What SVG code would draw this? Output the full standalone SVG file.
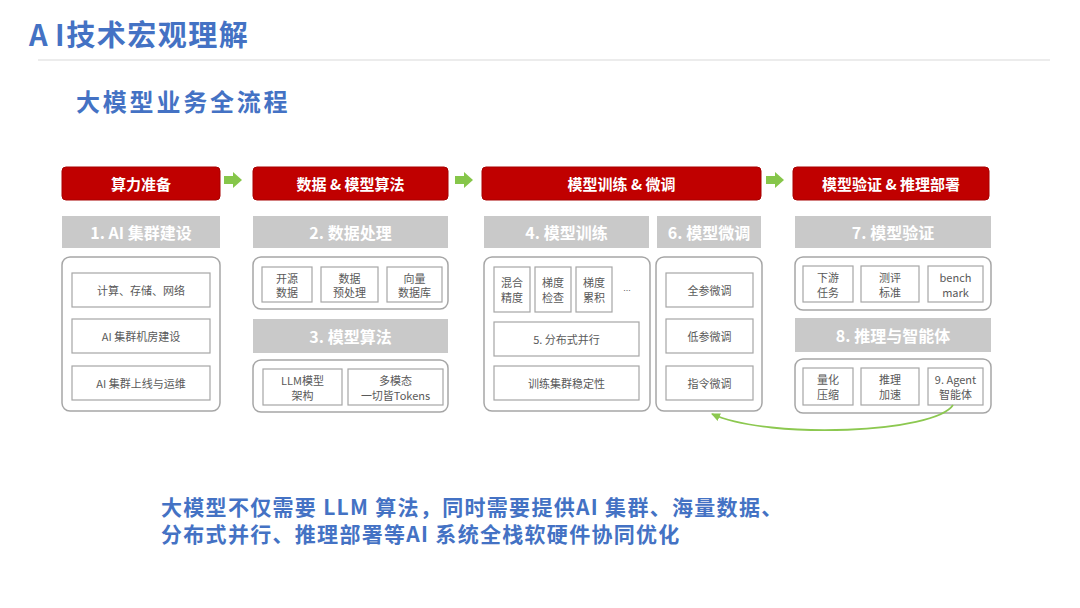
<svg xmlns="http://www.w3.org/2000/svg" width="1080" height="608" viewBox="0 0 1080 608">
<defs>
<style>
.cjk{font-family:"Noto Sans CJK SC","Liberation Sans",sans-serif}
.title{font-size:29px;font-weight:700;fill:#4472C4;letter-spacing:1.5px}
.sub{font-size:24px;font-weight:700;fill:#4472C4;letter-spacing:2.8px}
.foot{font-size:21px;font-weight:700;fill:#4472C4;letter-spacing:1.3px}
.hdr{fill:#C00000;stroke:#A80000;stroke-width:1}
.hdrt{font-size:15px;font-weight:700;fill:#fff}
.bar{fill:#C9C9C9}
.bart{font-size:16px;font-weight:700;fill:#fff}
.outer{fill:#fff;stroke:#A6A6A6;stroke-width:1.5}
.inner{fill:#fff;stroke:#A6A6A6;stroke-width:1.2}
.t{font-size:11px;fill:#595959}
.arrowg{fill:#86C64A}
</style>
<marker id="ah" markerWidth="10" markerHeight="10" refX="8" refY="5" orient="auto" markerUnits="userSpaceOnUse">
<path d="M0,1 L9,5 L0,9 Z" fill="#8CC850"/>
</marker>
</defs>
<rect width="1080" height="608" fill="#fff"/>

<g id="title" class="cjk">
<text class="title" x="29" y="33" dominant-baseline="central">A<tspan dx="6">I</tspan>技术宏观理解</text>
<line x1="38" y1="60" x2="1050" y2="60" stroke="#D9D9D9" stroke-width="1.2"/>
<text class="sub" x="76" y="100" dominant-baseline="central">大模型业务全流程</text>
</g>

<!-- Column 1 -->
<g id="col1" class="cjk" text-anchor="middle" dominant-baseline="central">
<rect class="hdr" x="62" y="167" width="158" height="33" rx="4"/>
<text class="hdrt" x="141" y="183.5">算力准备</text>
<rect class="bar" x="62" y="216" width="158" height="32"/>
<text class="bart" x="141" y="232">1. AI 集群建设</text>
<rect class="outer" x="62" y="257" width="158" height="154" rx="8"/>
<rect class="inner" x="72" y="273" width="138" height="34"/>
<text class="t" x="141" y="290">计算、存储、网络</text>
<rect class="inner" x="72" y="319" width="138" height="34"/>
<text class="t" x="141" y="336">AI 集群机房建设</text>
<rect class="inner" x="72" y="366" width="138" height="34"/>
<text class="t" x="141" y="383">AI 集群上线与运维</text>
</g>

<!-- Column 2 -->
<g id="col2" class="cjk" text-anchor="middle" dominant-baseline="central">
<rect class="hdr" x="253" y="167" width="195" height="33" rx="4"/>
<text class="hdrt" x="350.5" y="183.5">数据 &amp; 模型算法</text>
<rect class="bar" x="253" y="216" width="195" height="32"/>
<text class="bart" x="350.5" y="232">2. 数据处理</text>
<rect class="outer" x="253" y="257" width="195" height="52" rx="8"/>
<rect class="inner" x="262" y="267" width="50" height="35"/>
<text class="t" x="287" y="278">开源</text>
<text class="t" x="287" y="292">数据</text>
<rect class="inner" x="321" y="267" width="57" height="35"/>
<text class="t" x="349.5" y="278">数据</text>
<text class="t" x="349.5" y="292">预处理</text>
<rect class="inner" x="387" y="267" width="55" height="35"/>
<text class="t" x="414.5" y="278">向量</text>
<text class="t" x="414.5" y="292">数据库</text>
<rect class="bar" x="253" y="319" width="195" height="34"/>
<text class="bart" x="350.5" y="336">3. 模型算法</text>
<rect class="outer" x="253" y="360" width="195" height="52" rx="8"/>
<rect class="inner" x="263" y="369" width="79" height="36"/>
<text class="t" x="302.5" y="380">LLM模型</text>
<text class="t" x="302.5" y="395">架构</text>
<rect class="inner" x="348" y="369" width="95" height="36"/>
<text class="t" x="395.5" y="380">多模态</text>
<text class="t" x="395.5" y="395">一切皆Tokens</text>
</g>

<!-- Column 3 -->
<g id="col3" class="cjk" text-anchor="middle" dominant-baseline="central">
<rect class="hdr" x="482" y="167" width="279" height="33" rx="4"/>
<text class="hdrt" x="621.5" y="183.5">模型训练 &amp; 微调</text>
<rect class="bar" x="484" y="216" width="165" height="32"/>
<text class="bart" x="566.5" y="232">4. 模型训练</text>
<rect class="outer" x="484" y="257" width="166" height="154" rx="8"/>
<rect class="inner" x="494" y="267" width="36" height="45"/>
<text class="t" x="512" y="282">混合</text>
<text class="t" x="512" y="297">精度</text>
<rect class="inner" x="535" y="267" width="36" height="45"/>
<text class="t" x="553" y="282">梯度</text>
<text class="t" x="553" y="297">检查</text>
<rect class="inner" x="576" y="267" width="36" height="45"/>
<text class="t" x="594" y="282">梯度</text>
<text class="t" x="594" y="297">累积</text>
<text class="t" x="627" y="288" style="font-family:'Liberation Sans',sans-serif;font-size:9px">...</text>
<rect class="inner" x="494" y="322" width="145" height="34"/>
<text class="t" x="566.5" y="339">5. 分布式并行</text>
<rect class="inner" x="494" y="366" width="145" height="34"/>
<text class="t" x="566.5" y="383">训练集群稳定性</text>
</g>

<g id="col3b" class="cjk" text-anchor="middle" dominant-baseline="central">
<rect class="bar" x="657" y="216" width="104" height="32"/>
<text class="bart" x="709" y="232">6. 模型微调</text>
<rect class="outer" x="656" y="257" width="106" height="154" rx="8"/>
<rect class="inner" x="666" y="273" width="87" height="34"/>
<text class="t" x="709.5" y="290">全参微调</text>
<rect class="inner" x="666" y="319" width="87" height="34"/>
<text class="t" x="709.5" y="336">低参微调</text>
<rect class="inner" x="666" y="366" width="87" height="34"/>
<text class="t" x="709.5" y="383">指令微调</text>
</g>

<!-- Column 4 -->
<g id="col4" class="cjk" text-anchor="middle" dominant-baseline="central">
<rect class="hdr" x="793" y="167" width="196" height="33" rx="4"/>
<text class="hdrt" x="891" y="183.5">模型验证 &amp; 推理部署</text>
<rect class="bar" x="795" y="216" width="196" height="32"/>
<text class="bart" x="893" y="232">7. 模型验证</text>
<rect class="outer" x="795" y="257" width="196" height="53" rx="8"/>
<rect class="inner" x="803" y="266" width="50" height="36"/>
<text class="t" x="828" y="277">下游</text>
<text class="t" x="828" y="292">任务</text>
<rect class="inner" x="861" y="266" width="58" height="36"/>
<text class="t" x="890" y="277">测评</text>
<text class="t" x="890" y="292">标准</text>
<rect class="inner" x="928" y="266" width="55" height="36"/>
<text class="t" x="955.5" y="277">bench</text>
<text class="t" x="955.5" y="292">mark</text>
<rect class="bar" x="795" y="318" width="196" height="34"/>
<text class="bart" x="893" y="335">8. 推理与智能体</text>
<rect class="outer" x="795" y="359" width="196" height="54" rx="8"/>
<rect class="inner" x="803" y="368" width="50" height="37"/>
<text class="t" x="828" y="379">量化</text>
<text class="t" x="828" y="394">压缩</text>
<rect class="inner" x="861" y="368" width="58" height="37"/>
<text class="t" x="890" y="379">推理</text>
<text class="t" x="890" y="394">加速</text>
<rect class="inner" x="928" y="368" width="55" height="37"/>
<text class="t" x="955.5" y="379">9. Agent</text>
<text class="t" x="955.5" y="394">智能体</text>
</g>

<!-- Connectors -->
<g id="connectors">
<path class="arrowg" d="M224,176 H233 V172 L242,180 L233,188 V184 H224 Z"/>
<path class="arrowg" d="M455,176 H464 V172 L473,180 L464,188 V184 H455 Z"/>
<path class="arrowg" d="M766,176 H775 V172 L784,180 L775,188 V184 H766 Z"/>
<path d="M953,405 C935,433 770,440 712,414" fill="none" stroke="#8CC850" stroke-width="1.8" marker-end="url(#ah)"/>
</g>

<g id="footer" class="cjk">
<text class="foot" x="161" y="506" dominant-baseline="central">大模型不仅需要 LLM 算法，同时需要提供AI 集群、海量数据、</text>
<text class="foot" x="161" y="533" dominant-baseline="central">分布式并行、推理部署等AI 系统全栈软硬件协同优化</text>
</g>
</svg>
